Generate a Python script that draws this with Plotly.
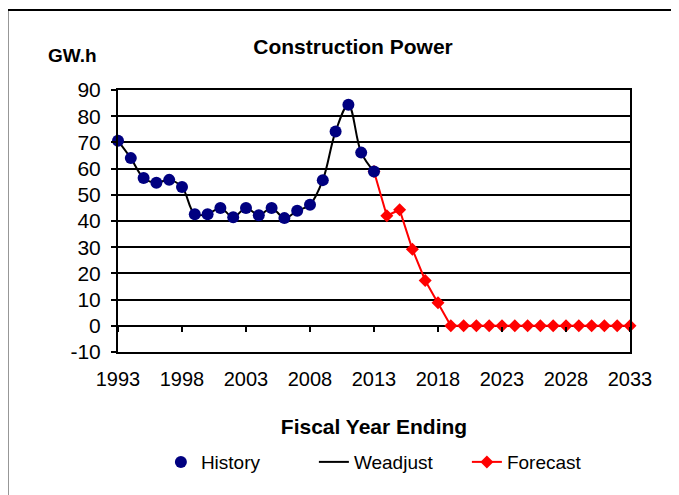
import plotly.graph_objects as go

# Fiscal years and values (GW.h)
hist_years = list(range(1993, 2014))
hist_vals = [70.6, 64.0, 56.4, 54.6, 55.7, 53.0, 42.6, 42.6, 45.0, 41.4, 45.0,
             42.2, 45.0, 41.1, 43.9, 46.2, 55.6, 74.2, 84.4, 66.1, 58.9]

fc_years = list(range(2013, 2034))
fc_vals = [58.9, 42.0, 44.3, 29.2, 17.3, 8.8] + [0.0] * 15

x_ticks = list(range(1993, 2034, 5))
y_ticks = list(range(-10, 91, 10))
y_labels = [str(v) for v in y_ticks]   # plain hyphen for "-10"

FONT = "Liberation Sans, Arial, sans-serif"

fig = go.Figure()

# Smoothed black line through history points (drawn first so markers sit on top)
fig.add_trace(go.Scatter(
    x=hist_years, y=hist_vals, name="Weadjust", mode="lines",
    line=dict(color="black", width=2, shape="spline", smoothing=1.0),
    legendrank=2, cliponaxis=False,
))
fig.add_trace(go.Scatter(
    x=fc_years, y=fc_vals, name="Forecast", mode="lines+markers",
    line=dict(color="#FF0000", width=2),
    marker=dict(symbol="diamond", size=10, color="#FF0000"),
    legendrank=3, cliponaxis=False,
))
fig.add_trace(go.Scatter(
    x=hist_years, y=hist_vals, name="History", mode="markers",
    marker=dict(symbol="circle", size=12, color="#000080"),
    legendrank=1, cliponaxis=False,
))

# page body adds 8px on the left/top, so margins are pulled in by that much
fig.update_layout(
    width=679, height=495,
    margin=dict(l=110, r=57, t=82, b=151),
    paper_bgcolor="white", plot_bgcolor="white",
    font=dict(family=FONT, size=19, color="black"),
    showlegend=True,
    legend=dict(orientation="h", x=0.532, xanchor="center", y=-0.42, yanchor="middle",
                font=dict(size=19), bgcolor="rgba(0,0,0,0)",
                entrywidth=108),
    title=dict(text="<b>Construction Power</b>", x=0.459, xref="paper", xanchor="center",
               y=1 - 39 / 495, yref="container", yanchor="middle", font=dict(size=21)),
)

fig.add_annotation(text="<b>GW.h</b>", x=-0.088, y=1.13, xref="paper", yref="paper",
                   xanchor="center", yanchor="middle",
                   showarrow=False, font=dict(size=19))

fig.update_xaxes(
    range=[1993, 2033], tickvals=x_ticks,
    showgrid=False, zeroline=False,
    showline=True, linecolor="black", linewidth=2, mirror=True,
    ticks="", ticklabelstandoff=8,
    tickfont=dict(size=20),
    title=dict(text="<b>Fiscal Year Ending</b>", font=dict(size=21), standoff=30),
)
fig.update_yaxes(
    range=[-10, 90], tickvals=y_ticks, ticktext=y_labels,
    showgrid=True, gridcolor="black", gridwidth=2, zeroline=False,
    showline=True, linecolor="black", linewidth=2, mirror=True,
    ticks="outside", ticklen=5, tickcolor="black", tickwidth=1.5,
    ticklabelstandoff=6, tickfont=dict(size=21),
)

# second x axis only for the small tick marks where the category axis crosses at 0
fig.update_layout(xaxis2=dict(
    overlaying="x", matches="x", anchor="free", position=0.1, side="bottom",
    showline=False, showgrid=False, zeroline=False, showticklabels=False,
    ticks="outside", ticklen=5, tickcolor="black", tickwidth=1.5,
    tickvals=x_ticks,
))
fig.add_trace(go.Scatter(x=[1993], y=[None], xaxis="x2", showlegend=False, hoverinfo="skip"))

# outer chart-area frame (runs off the right and bottom edges like the original)
fig.add_shape(type="rect", xref="paper", yref="paper",
              x0=-0.216, x1=1.2, y0=-0.7, y1=1.305,
              line=dict(color="black", width=2), layer="below")

fig.write_html("out.html")
